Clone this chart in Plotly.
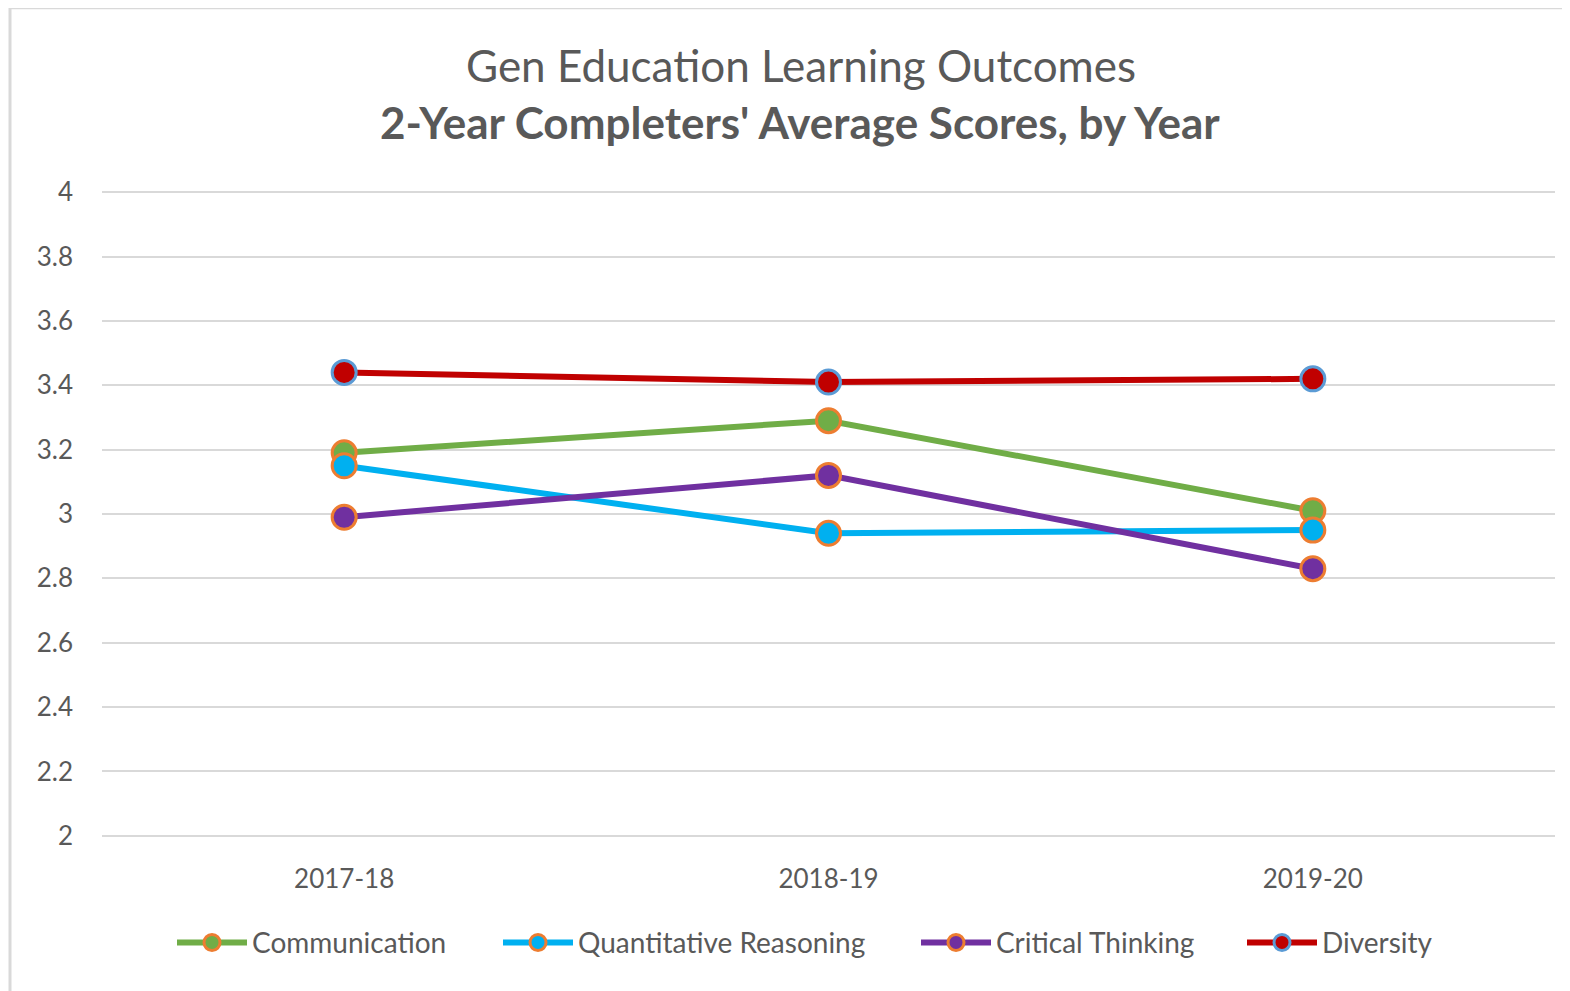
import plotly.graph_objects as go

years = ["2017-18", "2018-19", "2019-20"]
communication = [3.19, 3.29, 3.01]
quantitative = [3.15, 2.94, 2.95]
critical = [2.99, 3.12, 2.83]
diversity = [3.44, 3.41, 3.42]
y_ticks = [2, 2.2, 2.4, 2.6, 2.8, 3, 3.2, 3.4, 3.6, 3.8, 4]
y_labels = ["2", "2.2", "2.4", "2.6", "2.8", "3", "3.2", "3.4", "3.6", "3.8", "4"]

series = [
    ("Communication", communication, "#70AD47", "#ED7D31"),
    ("Quantitative Reasoning", quantitative, "#00B0F0", "#ED7D31"),
    ("Critical Thinking", critical, "#7030A0", "#ED7D31"),
    ("Diversity", diversity, "#C00000", "#5B9BD5"),
]
legend_ids = ["legend", "legend2", "legend3", "legend4"]
legend_px = [172, 498, 916, 1242]

FONT = "Lato"
GRAY = "#595959"
fig = go.Figure()
for (name, vals, col, edge), lid in zip(series, legend_ids):
    fig.add_trace(go.Scatter(
        x=years, y=vals, name=name, mode="lines+markers",
        line=dict(color=col, width=6),
        marker=dict(size=24, color=col, line=dict(color=edge, width=3)),
        legend=lid,
    ))

# plot area: x 102..1555, y(4)=192, y(2)=836 in screen px
X0, XW = 102, 1453.0

def px_to_paper_x(px):
    return (px - X0) / XW

def px_to_paper_y(py):
    return (836 - py) / 644.0 * (2.0 / 2.02) + (0.01 / 2.02)

legends = {}
for lid, lx in zip(legend_ids, legend_px):
    legends[lid] = dict(orientation="h", x=px_to_paper_x(lx), xanchor="left",
                        y=px_to_paper_y(943), yanchor="middle",
                        font=dict(family=FONT, size=28, color=GRAY), itemwidth=70,
                        bgcolor="rgba(0,0,0,0)")

fig.update_layout(
    width=1570, height=991,
    paper_bgcolor="white", plot_bgcolor="white",
    margin=dict(l=94, r=23, t=181, b=160),
    font=dict(family=FONT, color=GRAY, size=26),
    xaxis=dict(range=[-0.5, 2.5], showgrid=False, zeroline=False, showline=False,
               ticks="", tickfont=dict(size=26, color=GRAY), ticklabelstandoff=22),
    yaxis=dict(range=[1.99, 4.01], tickvals=y_ticks, ticktext=y_labels,
               showgrid=True, gridcolor="#D9D9D9", gridwidth=2,
               zeroline=False, showline=False, ticks="",
               tickfont=dict(size=26, color=GRAY), ticklabelstandoff=28),
    showlegend=True,
    annotations=[
        dict(text="Gen Education Learning Outcomes", xref="paper", yref="paper",
             x=px_to_paper_x(801), y=px_to_paper_y(65), xanchor="center", yanchor="middle",
             showarrow=False, font=dict(family=FONT, size=44, color=GRAY)),
        dict(text="<b>2-Year Completers' Average Scores, by Year</b>", xref="paper", yref="paper",
             x=px_to_paper_x(800), y=px_to_paper_y(122), xanchor="center", yanchor="middle",
             showarrow=False, font=dict(family=FONT, size=44, color=GRAY)),
    ],
    shapes=[dict(type="rect", xref="paper", yref="paper",
                 x0=px_to_paper_x(10), x1=px_to_paper_x(1590),
                 y0=px_to_paper_y(1010), y1=px_to_paper_y(7.5),
                 line=dict(color="#D9D9D9", width=3), fillcolor="rgba(0,0,0,0)", layer="below")],
    **legends,
)
fig.write_html("out.html")
